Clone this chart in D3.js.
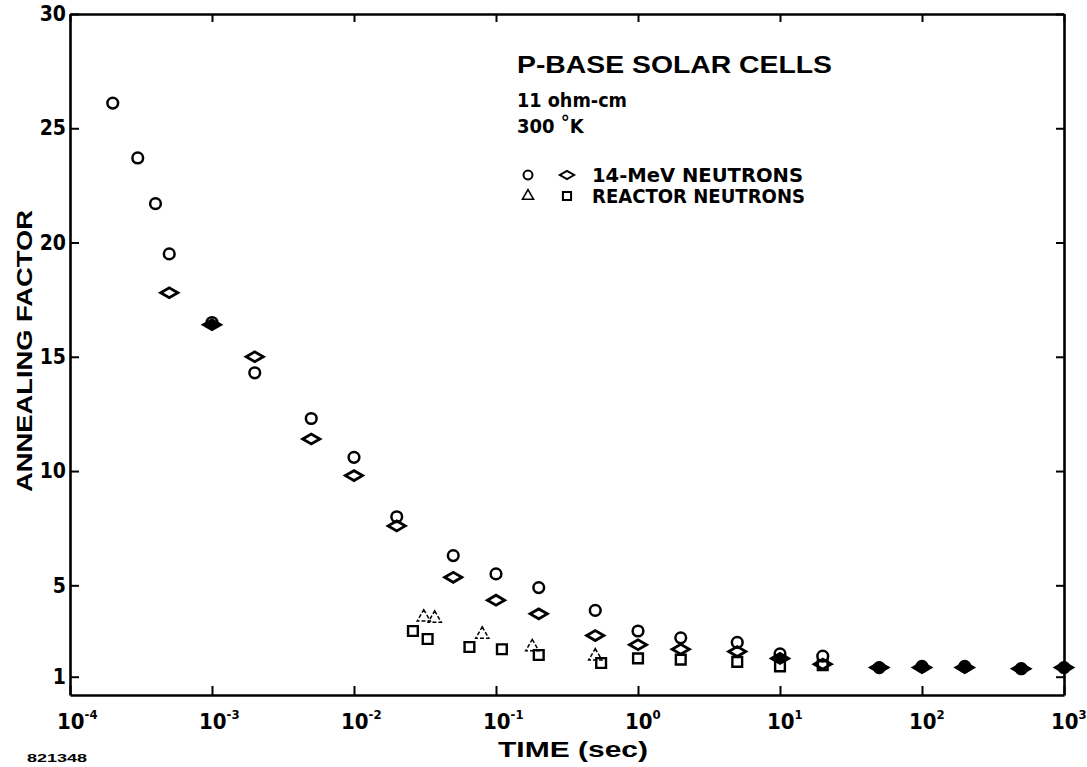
<!DOCTYPE html>
<html>
<head>
<meta charset="utf-8">
<script src="https://cdn.jsdelivr.net/npm/d3@7"></script>
<style>
  body { margin: 0; background: #fff; }
  svg { display: block; }
  text { fill: #000; }
  .narrow { font-family: 'Liberation Sans Narrow', 'DejaVu Sans Condensed', 'Liberation Sans', sans-serif; font-weight: bold; }
  .wide { font-family: 'Liberation Sans', Arial, sans-serif; font-weight: bold; }
</style>
</head>
<body>
<div id="chart"></div>
<script>
// Ticks de los ejes
const xTicks = [1e-4, 1e-3, 1e-2, 1e-1, 1, 10, 100, 1000];
const xTickExp = ["-4", "-3", "-2", "-1", "0", "1", "2", "3"];
const yTicks = [1, 5, 10, 15, 20, 25, 30];

// 14-MeV neutrones (circulos y rombos)
const circleTime = [2e-4, 3e-4, 4e-4, 5e-4, 1e-3, 2e-3, 5e-3, 1e-2, 2e-2, 5e-2, 0.1, 0.2, 0.5, 1, 2, 5, 10, 20, 50, 100, 200, 500, 1000];
const circleFactor = [26.1, 23.7, 21.7, 19.5, 16.5, 14.3, 12.3, 10.6, 8.0, 6.3, 5.5, 4.9, 3.9, 3.0, 2.7, 2.5, 2.0, 1.9, 1.4, 1.45, 1.45, 1.35, 1.4];
const diamondTime = [5e-4, 1e-3, 2e-3, 5e-3, 1e-2, 2e-2, 5e-2, 0.1, 0.2, 0.5, 1, 2, 5, 10, 20, 50, 100, 200, 500, 1000];
const diamondFactor = [17.8, 16.4, 15.0, 11.4, 9.8, 7.6, 5.35, 4.35, 3.75, 2.8, 2.4, 2.2, 2.1, 1.8, 1.55, 1.4, 1.4, 1.4, 1.35, 1.4];

// Neutrones de reactor (triangulos y cuadrados)
const triangleTime = [0.031, 0.037, 0.08, 0.18, 0.5];
const triangleFactor = [3.6, 3.55, 2.85, 2.3, 1.9];
const squareTime = [0.026, 0.033, 0.065, 0.11, 0.2, 0.55, 1, 2, 5, 10, 20];
const squareFactor = [3.0, 2.65, 2.3, 2.2, 1.95, 1.6, 1.8, 1.75, 1.65, 1.45, 1.5];

const W = 1087, H = 767;
const plot = { left: 70, right: 1064, top: 14, bottom: 695 };

const svg = d3.select("#chart").append("svg")
    .attr("width", W)
    .attr("height", H);

const x = d3.scaleLog()
    .domain([1e-4, 1e3])
    .range([plot.left, plot.right]);

const y = d3.scaleLinear()
    .domain([0.2, 30])
    .range([plot.bottom, plot.top]);

// Ejes (ticks hacia adentro)
function styleAxis(g) {
    g.selectAll("path.domain").attr("stroke", "#000").attr("stroke-width", 2.6);
    g.selectAll(".tick line").attr("stroke", "#000").attr("stroke-width", 2);
}

svg.append("g")
    .attr("transform", `translate(0, ${plot.bottom})`)
    .call(d3.axisBottom(x).tickValues(xTicks).tickSizeInner(-9).tickSizeOuter(0).tickFormat(""))
    .call(styleAxis);

svg.append("g")
    .attr("transform", `translate(0, ${plot.top})`)
    .call(d3.axisTop(x).tickValues(xTicks).tickSizeInner(-8).tickSizeOuter(0).tickFormat(""))
    .call(styleAxis);

svg.append("g")
    .attr("transform", `translate(${plot.right}, 0)`)
    .call(d3.axisRight(y).tickValues(yTicks).tickSizeInner(-8).tickSizeOuter(0).tickFormat(""))
    .call(styleAxis);

const yAxis = svg.append("g")
    .attr("transform", `translate(${plot.left}, 0)`)
    .call(d3.axisLeft(y).tickValues(yTicks).tickSizeInner(-9).tickSizeOuter(0).tickPadding(4).tickFormat(d3.format("d")))
    .call(styleAxis);

yAxis.selectAll(".tick text")
    .attr("class", "narrow")
    .style("font-size", "21px")
    .attr("fill", "#000");

// Etiquetas de potencias de 10
const xl = svg.append("g");
xTicks.forEach((t, i) => {
    const lab = xl.append("text")
        .attr("class", "narrow")
        .attr("x", x(t) - 13)
        .attr("y", 729)
        .style("font-size", "22px");
    lab.append("tspan").text("10");
    lab.append("tspan")
        .attr("dy", -10)
        .style("font-size", "13px")
        .text(xTickExp[i]);
});

// Titulos de ejes
svg.append("text")
    .attr("class", "wide")
    .attr("x", 498)
    .attr("y", 757)
    .attr("textLength", 150)
    .attr("lengthAdjust", "spacingAndGlyphs")
    .style("font-size", "22px")
    .text("TIME (sec)");

svg.append("text")
    .attr("class", "wide")
    .attr("transform", "translate(32, 492) rotate(-90)")
    .attr("textLength", 282)
    .attr("lengthAdjust", "spacingAndGlyphs")
    .style("font-size", "22px")
    .text("ANNEALING FACTOR");

svg.append("text")
    .attr("class", "wide")
    .attr("x", 27)
    .attr("y", 762)
    .attr("textLength", 60)
    .attr("lengthAdjust", "spacingAndGlyphs")
    .style("font-size", "10px")
    .text("821348");

// Simbolos
const shapes = {
    circle: { type: d3.symbolCircle, size: 90, rot: 0, sw: 2.5, dash: null },
    diamond: { type: d3.symbolDiamond, size: 85, rot: 90, sw: 2.8, dash: null },
    triangle: { type: d3.symbolTriangle, size: 75, rot: 0, sw: 1.5, dash: "4,2" },
    square: { type: d3.symbolSquare, size: 95, rot: 0, sw: 2.4, dash: null }
};

// Rombos que caen sobre un circulo se ven rellenos en el original
function overlapsCircle(t, v) {
    const i = circleTime.indexOf(t);
    return i >= 0 && Math.abs(circleFactor[i] - v) <= 0.25;
}

function drawMarks(times, values, name) {
    const s = shapes[name];
    svg.append("g")
        .selectAll("path")
        .data(times.map((t, i) => ({ t: t, v: values[i] })))
        .join("path")
        .attr("d", d3.symbol(s.type, s.size))
        .attr("transform", d => `translate(${x(d.t)}, ${y(d.v)}) rotate(${s.rot})`)
        .attr("fill", d => name === "diamond" && overlapsCircle(d.t, d.v) ? "#000" : "none")
        .attr("stroke", "#000")
        .attr("stroke-width", s.sw)
        .attr("stroke-dasharray", s.dash);
}

drawMarks(squareTime, squareFactor, "square");
drawMarks(triangleTime, triangleFactor, "triangle");
drawMarks(circleTime, circleFactor, "circle");
drawMarks(diamondTime, diamondFactor, "diamond");

// Leyenda
svg.append("text")
    .attr("class", "wide")
    .attr("x", 517)
    .attr("y", 73)
    .attr("textLength", 315)
    .attr("lengthAdjust", "spacingAndGlyphs")
    .style("font-size", "23px")
    .text("P-BASE SOLAR CELLS");

svg.append("text")
    .attr("class", "narrow")
    .attr("x", 517)
    .attr("y", 107)
    .attr("textLength", 110)
    .attr("lengthAdjust", "spacingAndGlyphs")
    .style("font-size", "20px")
    .text("11 ohm-cm");

const tk = svg.append("text")
    .attr("class", "narrow")
    .attr("x", 517)
    .attr("y", 133)
    .style("font-size", "20px");
tk.append("tspan").text("300 ");
tk.append("tspan").attr("dy", -4).text("°");
tk.append("tspan").attr("dy", 4).text("K");

const legendRows = [
    { y: 175, shapes: ["circle", "diamond"], label: "14-MeV NEUTRONS", len: 211 },
    { y: 196, shapes: ["triangle", "square"], label: "REACTOR NEUTRONS", len: 213 }
];

legendRows.forEach(r => {
    r.shapes.forEach((name, j) => {
        const s = shapes[name];
        svg.append("path")
            .attr("d", d3.symbol(s.type, s.size * 0.7))
            .attr("transform", `translate(${528 + j * 39}, ${r.y}) rotate(${s.rot})`)
            .attr("fill", "none")
            .attr("stroke", "#000")
            .attr("stroke-width", name === "triangle" ? 1.6 : 2);
    });
    svg.append("text")
        .attr("class", "narrow")
        .attr("x", 592)
        .attr("y", r.y + 7)
        .attr("textLength", r.len)
        .attr("lengthAdjust", "spacingAndGlyphs")
        .style("font-size", "19px")
        .text(r.label);
});
</script>
</body>
</html>
